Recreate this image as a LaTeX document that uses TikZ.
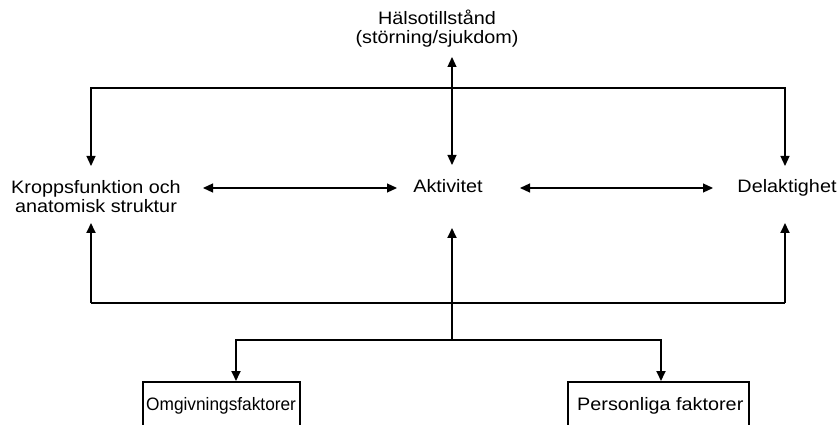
\documentclass[tikz,border=0pt]{standalone}
\usepackage{fontspec}
\setmainfont{Liberation Sans}[FakeStretch=1.1]
\newfontfamily\condsans{Liberation Sans}[FakeStretch=0.96]
\usetikzlibrary{arrows.meta}
\begin{document}
\begin{tikzpicture}[x=1pt,y=-1pt,
  lbl/.style={inner sep=0pt,font=\fontsize{18}{19}\selectfont,align=center},
  thinline/.style={line width=1.2pt},
  thickline/.style={line width=1.8pt},
  tip/.style={-{Triangle[length=10pt,width=9pt]}},
  bitip/.style={{Triangle[length=10pt,width=9pt]}-{Triangle[length=10pt,width=9pt]}},
  boxline/.style={line width=1.3pt}]
\useasboundingbox (0,0) rectangle (839,425);
\clip (0,0) rectangle (839,425);
% text nodes
\node[lbl] (halsa) at (437,29) {Hälsotillstånd\\(störning/sjukdom)};
\node[lbl] (kropp) at (96,197) {Kroppsfunktion och\\anatomisk struktur};
\node[lbl,anchor=base] (akt) at (448,193) {Aktivitet};
\node[lbl,anchor=base] (del) at (787,193) {Delaktighet};
\node[lbl,anchor=base west,font=\condsans\fontsize{18}{19}\selectfont] (omg) at (146,410) {Omgivningsfaktorer};
\node[lbl,anchor=base west] (pers) at (577,410) {Personliga faktorer};
% boxes (open at the bottom, cut by the picture edge)
\draw[boxline] (143,440) -- (143,382) -- (300,382) -- (300,440);
\draw[boxline] (568,440) -- (568,382) -- (749,382) -- (749,440);
% coordinates
\coordinate (ht) at (452,57);
\coordinate (hb) at (452,165);
\coordinate (tl) at (91,88);
\coordinate (tr) at (785,88);
\coordinate (tm) at (452,88);
\coordinate (kt) at (91,166);
\coordinate (dt) at (785,166);
\coordinate (kb) at (91,223);
\coordinate (db) at (785,223);
\coordinate (ab) at (452,228);
\coordinate (bl) at (91,303);
\coordinate (br) at (785,303);
\coordinate (bm) at (452,340);
\coordinate (ol) at (236,340);
\coordinate (or) at (661,340);
\coordinate (ot) at (236,381);
\coordinate (pt) at (661,381);
\coordinate (k1) at (203,188);
\coordinate (a1) at (397,188);
\coordinate (a2) at (520,188);
\coordinate (d1) at (713,188);
% upper connectors
\draw[thinline,bitip] (ht) -- (hb);
\draw[thinline,tip] (tm) -- (tl) -- (kt);
\draw[thinline,tip] (tm) -- (tr) -- (dt);
\draw[thinline,bitip] (k1) -- (a1);
\draw[thinline,bitip] (a2) -- (d1);
% lower connectors
\draw[thickline,tip] (bm) -- (ab);
\draw[thickline,tip] (br) -- (db);
\draw[thickline,tip] (bl) -- (kb);
\draw[thickline] (bl) -- (br);
\draw[thickline,tip] (bm) -- (ol) -- (ot);
\draw[thickline,tip] (bm) -- (or) -- (pt);
\end{tikzpicture}
\end{document}
